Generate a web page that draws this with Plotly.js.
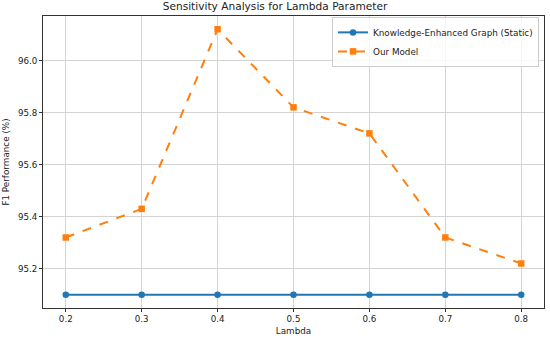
<!DOCTYPE html>
<html>
<head>
<meta charset="utf-8">
<script src="https://cdn.plot.ly/plotly-3.0.1.min.js"></script>
<style>html,body{margin:0;padding:0;background:#fff}#chart{width:550px;height:338px}</style>
</head>
<body>
<div id="chart"></div>
<script>
const lambdas = [0.2, 0.3, 0.4, 0.5, 0.6, 0.7, 0.8];
const staticValues = [95.1, 95.1, 95.1, 95.1, 95.1, 95.1, 95.1];
const ourModelValues = [95.32, 95.43, 96.12, 95.82, 95.72, 95.32, 95.22];
const xTicks = [0.2, 0.3, 0.4, 0.5, 0.6, 0.7, 0.8];
const yTicks = [95.2, 95.4, 95.6, 95.8, 96.0];

const font = "DejaVu Sans, sans-serif";
const traces = [
  {x: lambdas, y: staticValues, name: "Knowledge-Enhanced Graph (Static)", mode: "lines+markers",
   line: {color: "#1f77b4", width: 2}, marker: {symbol: "circle", size: 6.5, color: "#1f77b4"}},
  {x: lambdas, y: ourModelValues, name: "Our Model", mode: "lines+markers",
   line: {color: "#ff7f0e", width: 2, dash: "dash"}, marker: {symbol: "square", size: 6.5, color: "#ff7f0e"}}
];
const axisCommon = {showline: true, mirror: true, linecolor: "#333", linewidth: 1, ticks: "outside", ticklen: 3,
  tickcolor: "#333", showgrid: true, gridcolor: "#d3d3d3", gridwidth: 1, zeroline: false,
  tickfont: {family: font, size: 8.7, color: "#222"}};
const layout = {
  width: 550, height: 338,
  margin: {l: 43, r: 6, t: 16, b: 30},
  paper_bgcolor: "#fff", plot_bgcolor: "#fff",
  font: {family: font, color: "#222"},
  title: {text: "Sensitivity Analysis for Lambda Parameter", font: {family: font, size: 10.6, color: "#222"}, x: 0.5, xanchor: "center", y: 0.992, yanchor: "top"},
  xaxis: Object.assign({}, axisCommon, {range: [0.17, 0.83], tickvals: xTicks, ticktext: xTicks.map(v => v.toFixed(1)),
    title: {text: "Lambda", font: {family: font, size: 8.8, color: "#222"}, standoff: 4}}),
  yaxis: Object.assign({}, axisCommon, {range: [95.049, 96.171], tickvals: yTicks, ticktext: yTicks.map(v => v.toFixed(1)),
    title: {text: "F1 Performance (%)", font: {family: font, size: 8.8, color: "#222"}, standoff: 6}}),
  legend: {x: 0.99, xanchor: "right", y: 0.997, yanchor: "top", bgcolor: "rgba(255,255,255,0.8)", bordercolor: "#ccc", borderwidth: 1,
    font: {family: font, size: 8.8, color: "#222"}, tracegroupgap: 0, itemwidth: 30},
  showlegend: true
};
Plotly.newPlot("chart", traces, layout, {displayModeBar: false, staticPlot: true});
</script>
</body>
</html>
